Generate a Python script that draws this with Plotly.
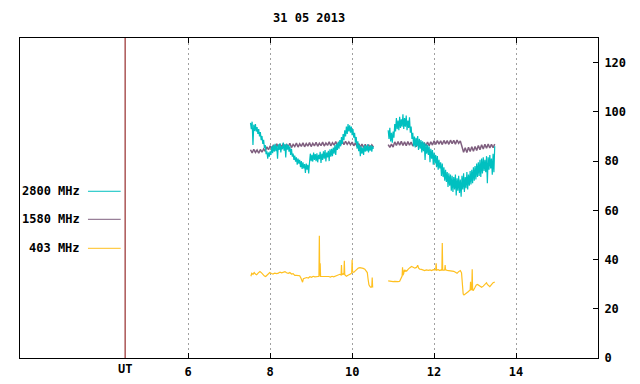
import numpy as np
import plotly.graph_objects as go

# ---------------- data ----------------
title_text = "31 05 2013"
x_ticks = [6, 8, 10, 12, 14]
y_ticks = [0, 20, 40, 60, 80, 100, 120]
ut_hour = 4.46

# 2800 MHz, regular sampling (hours UT)
cyan_start1, cyan_start2, cyan_step = 7.52, 10.88, 0.02
cyan_seg1 = [95.5, 93.0, 96.0, 86.5, 94.8, 92.2, 95.0, 92.0, 93.8, 91.0,
             93.0, 90.0, 91.8, 88.5, 90.2, 87.0, 88.6, 85.2, 86.5, 82.8,
             84.0, 81.0, 83.5, 81.8, 84.0, 82.5, 86.0, 83.2, 86.5, 83.8,
             87.0, 84.0, 86.2, 81.0, 86.8, 84.5, 87.2, 83.5, 86.0, 84.8,
             87.5, 84.2, 86.8, 81.5, 87.0, 84.6, 86.5, 83.8, 86.0, 82.5,
             85.0, 81.8, 83.0, 80.5, 82.2, 79.8, 81.5, 78.5, 81.0, 79.0,
             80.5, 77.5, 80.0, 76.8, 79.5, 77.0, 78.8, 75.2, 79.0, 76.5,
             78.5, 75.0, 79.5, 83.0, 80.0, 82.5, 79.8, 83.5, 80.5, 82.8,
             80.0, 83.2, 79.5, 82.5, 80.8, 83.8, 79.2, 83.0, 80.5, 84.0,
             81.0, 84.5, 79.8, 83.5, 81.5, 84.2, 80.0, 84.8, 81.8, 85.0,
             82.0, 85.5, 83.0, 86.5, 82.5, 87.0, 84.5, 87.8, 85.0, 88.5,
             86.0, 89.8, 87.0, 91.0, 88.5, 92.5, 90.0, 94.0, 91.0, 95.0,
             92.0, 94.5, 91.5, 94.0, 90.5, 93.0, 89.5, 91.5, 87.5, 89.8,
             85.0, 88.0, 84.0, 86.5, 82.0, 86.0, 83.0, 85.5, 82.5, 86.5,
             83.8, 86.2, 84.0, 86.8, 83.5, 86.0, 84.2, 86.5, 83.8, 86.0, 85.0]
cyan_seg2 = [92.5, 89.0, 93.5, 88.0, 91.5, 87.5, 92.0, 89.5, 95.0, 92.0,
             97.5, 93.0, 96.5, 92.5, 98.0, 93.5, 97.0, 94.0, 99.0, 93.0,
             97.5, 94.0, 98.5, 92.5, 96.5, 93.5, 97.8, 91.5, 94.0, 89.0,
             91.5, 86.0, 90.0, 85.5, 89.5, 86.0, 90.2, 84.5, 89.0, 85.0,
             88.5, 83.5, 88.0, 84.0, 87.5, 80.5, 87.0, 83.0, 86.5, 82.5,
             86.0, 79.5, 85.0, 81.0, 84.5, 78.5, 83.5, 79.0, 82.5, 77.5,
             82.0, 76.5, 80.5, 77.0, 79.5, 74.0, 79.0, 73.5, 77.5, 72.0,
             76.5, 71.5, 75.5, 69.5, 75.0, 70.0, 74.5, 68.0, 74.0, 67.5,
             73.5, 68.5, 74.5, 66.0, 73.0, 68.0, 74.0, 67.0, 72.5, 65.5,
             74.0, 68.5, 75.0, 67.5, 73.5, 69.0, 75.5, 68.5, 74.5, 70.0,
             76.0, 70.5, 76.5, 71.0, 77.5, 72.0, 78.0, 72.5, 79.0, 73.5,
             79.5, 74.0, 80.5, 73.5, 81.0, 75.0, 81.5, 76.0, 80.5, 75.5,
             82.0, 71.0, 81.5, 76.5, 82.5, 77.0, 81.0, 74.5, 83.0, 75.5, 86.0]

# 1580 MHz, regular sampling (hours UT)
purple_start1, purple_start2, purple_step = 7.52, 10.88, 0.04
purple_seg1 = [84.6, 83.3, 84.8, 83.5, 84.5, 83.2, 84.7, 83.6, 84.9, 84.0,
               85.8, 84.6, 86.2, 85.0, 86.6, 85.5, 87.0, 85.6, 86.9, 85.7,
               87.1, 85.6, 86.9, 85.8, 87.2, 85.5, 86.8, 85.9, 87.3, 85.7,
               87.0, 86.0, 87.4, 85.8, 87.1, 86.1, 87.5, 85.9, 87.2, 86.2,
               87.6, 86.0, 87.3, 86.3, 87.7, 86.1, 87.4, 86.4, 87.8, 86.2,
               87.5, 86.5, 87.9, 86.3, 87.6, 86.6, 88.1, 86.7, 88.0, 86.8,
               87.8, 86.6, 87.7, 86.2, 87.4, 85.9, 87.1, 85.6, 86.9, 85.5,
               86.8, 85.4, 86.7, 85.5, 86.6, 85.6]
purple_seg2 = [86.7, 85.6, 86.9, 85.7, 87.8, 86.3, 87.9, 86.4, 88.0, 86.3,
               87.8, 86.2, 87.9, 86.5, 87.7, 86.1, 87.5, 85.8, 87.4, 86.0,
               87.6, 85.9, 87.5, 86.1, 87.7, 86.2, 87.8, 86.5, 88.2, 86.8,
               88.3, 86.9, 88.2, 86.7, 88.4, 87.0, 88.3, 86.8, 88.5, 87.1,
               88.4, 86.9, 88.5, 87.2, 88.2, 86.0, 83.6, 85.4, 83.5, 85.6,
               83.9, 85.8, 84.0, 85.9, 84.3, 86.3, 84.6, 86.6, 84.9, 86.8,
               85.2, 86.9, 85.3, 86.8, 85.4, 86.9]

# 403 MHz, explicit samples
yellow_t1 = [7.53, 7.55, 7.58, 7.61, 7.64, 7.67, 7.71, 7.75, 7.79, 7.83, 7.86, 7.89,
             7.93, 7.96, 7.99, 8.03, 8.07, 8.11, 8.16, 8.20, 8.24, 8.28, 8.32, 8.36,
             8.40, 8.44, 8.48, 8.52, 8.56, 8.60, 8.64, 8.68, 8.72, 8.75, 8.77, 8.79,
             8.81, 8.85, 8.89, 8.93, 8.97, 9.01, 9.05, 9.09, 9.13, 9.17, 9.19, 9.20,
             9.21, 9.22, 9.23, 9.27, 9.31, 9.35, 9.39, 9.43, 9.47, 9.51, 9.55, 9.59,
             9.63, 9.67, 9.70, 9.73, 9.74, 9.75, 9.78, 9.80, 9.81, 9.82, 9.86, 9.90,
             9.94, 9.97, 9.99, 10.00, 10.01, 10.04, 10.07, 10.11, 10.15, 10.19, 10.23,
             10.27, 10.31, 10.34, 10.37, 10.39, 10.41, 10.44, 10.46, 10.48, 10.49,
             10.50, 10.51]
yellow_v1 = [33.2, 34.4, 34.0, 34.7, 34.1, 33.8, 34.6, 35.1, 34.6, 33.8, 33.3, 33.1,
             33.6, 34.2, 34.7, 34.3, 34.1, 34.5, 34.3, 34.5, 34.9, 34.6, 34.8, 35.1,
             34.6, 34.4, 34.7, 34.1, 34.3, 33.6, 33.6, 33.4, 33.4, 32.5, 31.2, 30.8,
             32.2, 32.5, 32.7, 32.5, 33.0, 32.8, 33.2, 33.0, 33.2, 33.1, 33.1, 49.7,
             33.4, 38.5, 33.1, 33.1, 33.3, 33.0, 33.2, 33.1, 32.9, 33.2, 33.0, 33.3,
             33.5, 33.8, 34.0, 33.7, 37.8, 33.8, 34.2, 33.9, 39.5, 33.8, 33.2, 33.6,
             33.8, 34.2, 34.6, 39.9, 35.0, 34.8, 35.3, 36.0, 36.5, 36.7, 36.7,
             36.4, 36.1, 35.4, 34.7, 32.0, 29.7, 28.9, 28.7, 28.9, 32.7,
             28.8, 29.0]
yellow_t2 = [10.88, 10.92, 10.96, 11.00, 11.04, 11.08, 11.12, 11.16, 11.18, 11.20,
             11.22, 11.23, 11.24, 11.26, 11.27, 11.29, 11.31, 11.33, 11.35, 11.37,
             11.41, 11.45, 11.49, 11.53, 11.57, 11.60, 11.62, 11.65, 11.69, 11.73,
             11.77, 11.81, 11.86, 11.90, 11.94, 11.98, 12.02, 12.04, 12.05, 12.06,
             12.10, 12.14, 12.17, 12.19, 12.20, 12.21, 12.24, 12.26, 12.27, 12.28,
             12.32, 12.36, 12.40, 12.44, 12.48, 12.52, 12.56, 12.60, 12.64, 12.67,
             12.69, 12.71, 12.73, 12.77, 12.81, 12.84, 12.86, 12.88, 12.89, 12.90,
             12.92, 12.93, 12.94, 12.96, 12.99, 13.03, 13.06, 13.09, 13.12, 13.16,
             13.20, 13.24, 13.28, 13.30, 13.33, 13.36, 13.40, 13.44, 13.48]
yellow_v2 = [31.3, 31.1, 31.0, 31.0, 31.1, 30.9, 31.0, 31.2, 32.0, 32.6,
             33.3, 36.9, 33.6, 34.4, 35.8, 35.1, 35.6, 35.3, 36.0, 36.1,
             36.7, 37.2, 36.9, 36.5, 36.8, 37.7, 36.6, 36.1, 36.0, 35.8,
             35.5, 35.8, 35.6, 35.8, 35.5, 35.9, 35.7, 35.8, 38.5, 35.7,
             35.9, 35.5, 35.8, 35.7, 46.7, 35.8, 35.6, 35.9, 37.8, 35.8,
             35.6, 35.5, 35.6, 35.4, 35.2, 34.8, 34.4, 35.1, 35.5, 34.6,
             27.0, 26.0, 25.6, 26.0, 26.5, 27.0, 27.4, 27.6, 31.0, 27.7,
             27.8, 36.1, 27.6, 27.5, 28.4, 29.7, 29.9, 29.5, 29.3, 28.7,
             29.2, 29.9, 30.6, 29.9, 29.3, 29.0, 29.8, 30.6, 30.8]

legend_names = ["2800 MHz", "1580 MHz", "403 MHz"]

# ---------------- build ----------------
def grid(start, step, n):
    return list(np.round(start + step * np.arange(n), 3))

t_cyan = grid(cyan_start1, cyan_step, len(cyan_seg1)) + [None] + grid(cyan_start2, cyan_step, len(cyan_seg2))
t_purp = grid(purple_start1, purple_step, len(purple_seg1)) + [None] + grid(purple_start2, purple_step, len(purple_seg2))
cyan_all = cyan_seg1 + [None] + cyan_seg2
purple_all = purple_seg1 + [None] + purple_seg2
yt_all = yellow_t1 + [None] + yellow_t2
yv_all = yellow_v1 + [None] + yellow_v2

C_CYAN = "#00C0C0"
C_PURP = "#7F5F7F"
C_YEL = "#FFC020"
FONT = dict(family="DejaVu Sans Mono", size=12, color="black", weight="bold")

fig = go.Figure()
fig.add_trace(go.Scatter(x=t_purp, y=purple_all, mode="lines",
                         line=dict(color=C_PURP, width=1.5), connectgaps=False))
fig.add_trace(go.Scatter(x=t_cyan, y=cyan_all, mode="lines",
                         line=dict(color=C_CYAN, width=1.2), connectgaps=False))
fig.add_trace(go.Scatter(x=yt_all, y=yv_all, mode="lines",
                         line=dict(color=C_YEL, width=1.2), connectgaps=False))

# the page body adds an 8px offset; margins compensate so the frame lands at 20..598 x 38..358
fig.update_layout(
    width=640, height=384,
    margin=dict(l=12, r=50, t=30, b=34, autoexpand=False),
    paper_bgcolor="white", plot_bgcolor="white",
    showlegend=False,
    font=FONT,
)
fig.update_xaxes(range=[1.895, 16], tickvals=x_ticks, ticktext=[str(v) for v in x_ticks],
                 ticks="inside", ticklen=5, tickcolor="black", tickwidth=1,
                 showline=True, linecolor="black", linewidth=1, mirror="ticks",
                 showgrid=True, gridcolor="#A0A0A0", gridwidth=1, griddash="2px,3px",
                 zeroline=False, tickfont=FONT, ticklabelstandoff=3, automargin=False)
fig.update_yaxes(range=[0, 130], tickvals=y_ticks, side="right",
                 ticks="inside", ticklen=5, tickcolor="black", tickwidth=1,
                 showline=True, linecolor="black", linewidth=1, mirror=True,
                 showgrid=False, zeroline=False, tickfont=FONT, ticklabelstandoff=3,
                 automargin=False)

# UT marker line
fig.add_shape(type="line", xref="x", yref="paper", x0=ut_hour, x1=ut_hour, y0=0, y1=1,
              line=dict(color="#800000", width=1))
fig.add_annotation(x=ut_hour, y=0, xref="x", yref="paper", text="UT", showarrow=False,
                   yanchor="top", yshift=-2, font=FONT)
# title
fig.add_annotation(x=0.5, y=1, xref="paper", yref="paper", text=title_text, showarrow=False,
                   yanchor="middle", yshift=20, font=FONT)

# legend (text left of sample line)
leg_y = [0.521, 0.4334, 0.3428]
for name, col, yy in zip(legend_names, [C_CYAN, C_PURP, C_YEL], leg_y):
    fig.add_annotation(x=0.1038, y=yy, xref="paper", yref="paper", text=name,
                       showarrow=False, xanchor="right", yanchor="middle", xshift=2, font=FONT)
    fig.add_shape(type="line", xref="paper", yref="paper", x0=0.1176, x1=0.1742,
                  y0=yy, y1=yy, line=dict(color=col, width=1))

fig.write_html("out.html")
